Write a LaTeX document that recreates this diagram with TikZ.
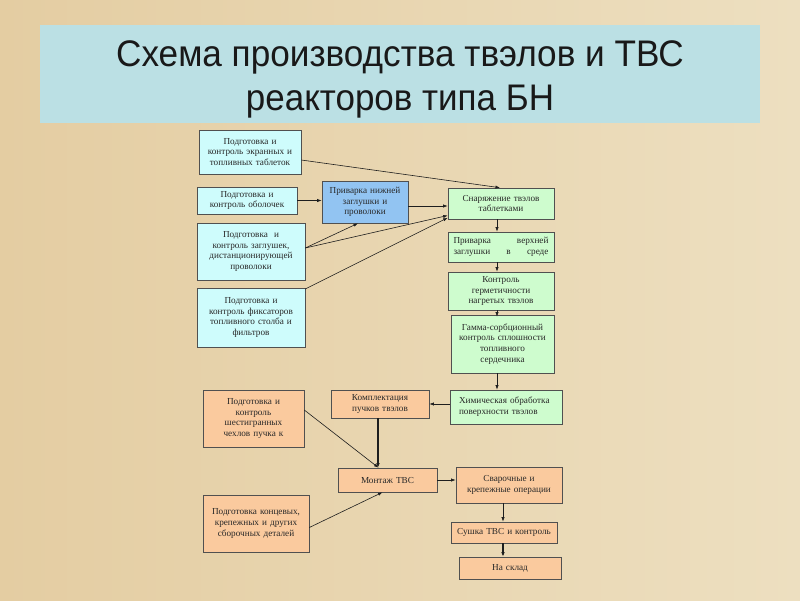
\documentclass[tikz,border=0pt]{standalone}
\usepackage{fontspec}
\setmainfont{Liberation Serif}
\newfontfamily\titlefont{Liberation Sans}
\usetikzlibrary{arrows.meta,calc}
\definecolor{bgA}{RGB}{228,205,162}
\definecolor{bgB}{RGB}{237,223,192}
\definecolor{titleblue}{RGB}{187,224,228}
\definecolor{cyanbox}{RGB}{206,252,252}
\definecolor{bluebox}{RGB}{146,196,242}
\definecolor{greenbox}{RGB}{206,252,206}
\definecolor{orangebox}{RGB}{250,202,158}
\definecolor{edge}{RGB}{80,80,80}
\definecolor{txt}{RGB}{40,40,40}
\definecolor{linec}{RGB}{30,30,30}
\tikzset{
  box/.style={draw=edge, line width=0.6pt, rectangle, inner xsep=2pt, inner ysep=1pt,
    align=center, text=txt, font=\fontsize{9.2}{10.8}\selectfont},
  cbox/.style={box, fill=cyanbox},
  bbox/.style={box, fill=bluebox},
  gbox/.style={box, fill=greenbox},
  obox/.style={box, fill=orangebox},
  arr/.style={draw=linec, line width=0.6pt, -{Latex[length=4.5pt,width=3.2pt]}},
  arrthick/.style={draw=linec, line width=1.3pt, -{Latex[length=4.5pt,width=3.5pt]}},
  titletext/.style={font=\titlefont\fontsize{37}{40}\selectfont, text=black!90, anchor=base, inner sep=0pt}
}
\begin{document}
\begin{tikzpicture}[x=1pt,y=-1pt]
\useasboundingbox (0,0) rectangle (800,600);
\shade[left color=bgA, right color=bgB] (0,0) rectangle (800,600);

% title
\node[fill=titleblue, minimum width=720pt, minimum height=98pt, inner sep=0pt] (tb) at (400,74) {};
\node[titletext] (t1) at (400,66) {\scalebox{0.95}[1]{Схема производства твэлов и ТВС}};
\node[titletext] (t2) at (400,110) {\scalebox{0.945}[1]{реакторов типа БН}};

% left cyan column
\node[cbox, minimum height=44pt, text width=98pt] (b1) at (250,152) {Подготовка и\\контроль экранных и\\топливных таблеток};
\node[cbox, minimum height=27pt, text width=96pt] (b2) at (247,200.5) {Подготовка и\\контроль оболочек};
\node[cbox, minimum height=57pt, text width=104pt] (b3) at (251,251.5) {Подготовка \ и\\контроль заглушек,\\дистанционирующей\\проволоки};
\node[cbox, minimum height=59pt, text width=104pt] (b4) at (251,317.5) {Подготовка и\\контроль фиксаторов\\топливного столба и\\фильтров};
\node[bbox, minimum height=42pt, text width=82pt] (b5) at (365,202) {Приварка нижней\\заглушки и\\проволоки};

% green column
\node[gbox, minimum height=31pt, text width=102pt] (g1) at (501,203.5) {Снаряжение твэлов\\таблетками};
\node[gbox, minimum height=30pt, minimum width=106pt, text width=95pt, align=left] (g2) at (501,247) {Приварка\hfill верхней\\заглушки\hfill в\hfill среде};
\node[gbox, minimum height=38pt, text width=102pt] (g3) at (501,291) {Контроль\\герметичности\\нагретых твэлов};
\node[gbox, minimum height=58pt, text width=99pt] (g4) at (502.5,344) {Гамма-сорбционный\\контроль сплошности\\топливного\\сердечника};
\node[gbox, minimum height=34pt, minimum width=112pt, text width=94pt, align=left] (g5) at (506,407) {Химическая обработка\\поверхности твэлов};

% orange part
\node[obox, minimum height=57pt, text width=97pt] (o1) at (253.5,418.5) {Подготовка и\\контроль\\шестигранных\\чехлов пучка к};
\node[obox, minimum height=28pt, text width=94pt] (o2) at (380,404) {Комплектация\\пучков твэлов};
\node[obox, minimum height=24pt, text width=95pt] (o3) at (387.5,480) {Монтаж ТВС\\[4pt]};
\node[obox, minimum height=36pt, text width=102pt] (o4) at (509,485) {Сварочные и\\крепежные операции};
\node[obox, minimum height=57pt, text width=102pt] (o5) at (256,523.5) {Подготовка концевых,\\крепежных и других\\сборочных деталей};
\node[obox, minimum height=21pt, text width=102pt] (o6) at (504,532.5) {Сушка ТВС и контроль};
\node[obox, minimum height=22pt, text width=98pt] (o7) at (510,568) {На склад};

% connectors upper part
\draw[arr] ([yshift=-8pt]b1.east) -- ([xshift=-1pt]g1.north);
\draw[arr] (b2.east) -- (b2.east -| b5.west);
\draw[arr] ([yshift=-4pt]b5.east) -- ([yshift=-4pt]b5.east -| g1.west);
\draw[arr] ([yshift=3.5pt]b3.east) -- ([xshift=-7pt]b5.south);
\draw[arr] ([yshift=3.5pt]b3.east) -- ([yshift=-12pt]g1.west);
\draw[arr] ([yshift=28.5pt]b4.east) -- ([yshift=1.5pt]g1.south west);

\draw[arr] ([xshift=-4pt]g1.south) -- ([xshift=-4pt]g1.south |- g2.north);
\draw[arr] ([xshift=-4pt]g2.south) -- ([xshift=-4pt]g2.south |- g3.north);
\draw[arr] ([xshift=-4pt]g3.south) -- ([xshift=-4pt,yshift=-2pt]g3.south |- g4.north);
\draw[arr] ([xshift=-5.5pt]g4.south) -- ([xshift=-5.5pt]g4.south |- g5.north);

% connectors lower part
\draw[arr] ([yshift=3pt]g5.west) -- ([yshift=3pt]g5.west -| o2.east);
\draw[arrthick] ([xshift=-2pt]o2.south) -- ([xshift=-2pt]o2.south |- o3.north);
\draw[arr] ([yshift=8.5pt]o1.east) -- ([xshift=-9pt]o3.north);
\draw[arr] ([yshift=-4pt]o5.east) -- ([xshift=-5pt]o3.south);
\draw[arr] (o3.east) -- (o3.east -| o4.west);
\draw[arr] ([xshift=-6pt]o4.south) -- ([xshift=-6pt]o4.south |- o6.north);
\draw[arrthick] ([xshift=-1pt]o6.south) -- ([xshift=-1pt]o6.south |- o7.north);
\end{tikzpicture}
\end{document}
